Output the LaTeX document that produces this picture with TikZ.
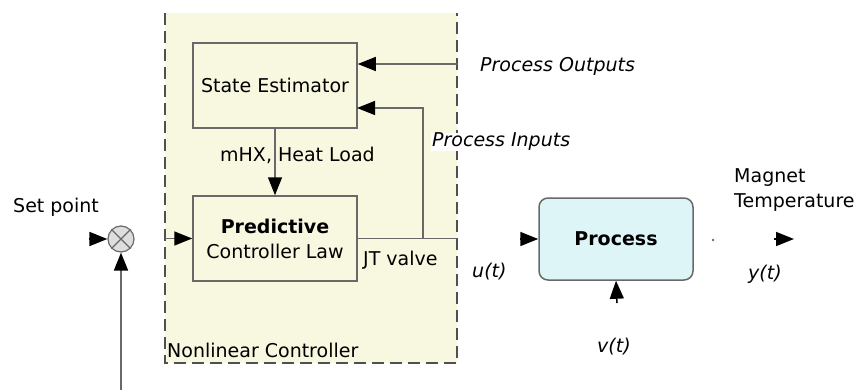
\documentclass[tikz,border=0pt]{standalone}
\usepackage{fontspec}
\setmainfont{DejaVu Sans}
\usetikzlibrary{arrows.meta}
\definecolor{cream}{RGB}{248,247,224}
\definecolor{procfill}{RGB}{221,245,246}
\definecolor{edgegray}{RGB}{105,105,105}
\definecolor{dashgray}{RGB}{80,80,80}
\definecolor{sumfill}{RGB}{222,222,222}
\begin{document}
\begin{tikzpicture}[x=1pt,y=-1pt,
  every node/.style={font=\fontsize{19}{25}\selectfont, inner sep=0pt},
  blk/.style={draw=edgegray, line width=1.5pt, fill=cream, minimum width=164pt, minimum height=85pt, align=center},
  pipe/.style={draw=edgegray, line width=1.5pt},
  arrowhd/.style={-{Triangle[length=18pt,width=14pt,color=black]}},
  lbl/.style={anchor=west, align=left},
  ilbl/.style={anchor=west, font=\fontsize{19}{25}\selectfont\itshape},
  dashside/.style={draw=dashgray, line width=2pt, dash pattern=on 12pt off 6pt}
]
\useasboundingbox (0,0) rectangle (858,390);

% container
\node (ctl) [fill=cream, minimum width=292pt, minimum height=350pt] at (311,188) {};
\draw[dashside] (ctl.north west) -- (ctl.south west) -- (ctl.south east) -- (ctl.north east);

% blocks
\node (se) [blk] at (275,85.5) {State Estimator};
\node (pc) [blk] at (275,238.5) {\textbf{Predictive}\\Controller Law};
\node (sum) [circle, draw=edgegray, line width=1.2pt, fill=sumfill, minimum size=26pt] at (121,239) {};
\draw[edgegray, line width=1.2pt] (sum.north west) -- (sum.south east) (sum.north east) -- (sum.south west);
\node (proc) [draw=edgegray, line width=1.5pt, fill=procfill, rounded corners=9pt,
  minimum width=154pt, minimum height=82pt, font=\fontsize{19}{25}\selectfont\bfseries] at (616,239) {Process};

% coordinates
\coordinate (spin) at (89,239);
\coordinate (fb) at (121,390);
\coordinate (po) at (457,64);
\coordinate (pi) at (357,108);
\coordinate (jn) at (423,239);
\coordinate (uin) at (520,239);
\coordinate (vin) at (617,303);
\coordinate (ybase) at (774,239);
\coordinate (yout) at (794,239);

% connectors
\draw[arrowhd, line width=1.5pt] (spin) -- (sum.west);
\draw[pipe, arrowhd] (fb) -- (sum.south);
\draw[pipe, arrowhd] (ctl.west |- pc.west) -- (pc.west);
\draw[pipe, arrowhd] (se.south) -- (pc.north);
\draw[pipe, arrowhd] (po) -- (se.east |- po);
\draw[pipe] (pc.east) -- (ctl.east |- pc.east);
\draw[pipe, arrowhd] (jn |- pc.east) -- (jn |- pi) -- (pi);
\draw[arrowhd, line width=1.5pt] (uin) -- (proc.west);
\draw[arrowhd, line width=1.5pt] (vin) -- (proc.south);
\draw[arrowhd, line width=1.5pt] (ybase) -- (yout);
\fill[edgegray] (713,240) circle (1.3pt);

% labels
\node (tsp) [lbl] at (13,207) {Set point};
\node (tmhx) [lbl] at (220,155) {mHX, Heat Load};
\node (tjt) [lbl] at (363,260) {JT valve};
\node (tpi) [ilbl, fill=white, inner xsep=1pt] at (431,142) {Process Inputs};
\node (tpo) [ilbl] at (480,66) {Process Outputs};
\node (tnc) [lbl] at (167,350) {Nonlinear Controller};
\node (tu) [ilbl] at (472,272) {u(t)};
\node (ty) [ilbl] at (748,274) {y(t)};
\node (tv) [ilbl] at (597,347) {v(t)};
\node (tmt) [lbl] at (734,190) {Magnet\\Temperature};
\end{tikzpicture}
\end{document}
